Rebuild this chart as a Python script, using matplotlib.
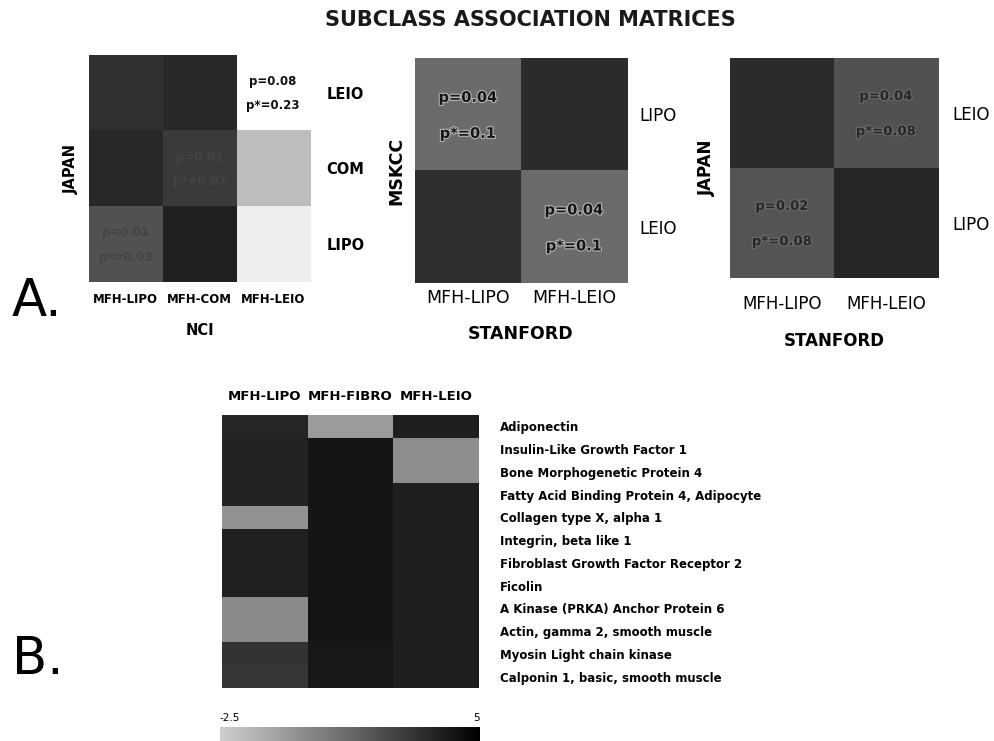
import matplotlib as mpl
mpl.use("Agg")
import matplotlib.pyplot as plt
import matplotlib.patheffects as pe
from matplotlib.colors import LinearSegmentedColormap

plt.rcParams.update({
    "font.family": ["DejaVu Sans"],
    "axes.linewidth": 0,
})

W, H = 994, 741

# ---- panel A: subclass association matrices (shade 0 = black, 1 = white) ----
nci_cols = ["MFH-LIPO", "MFH-COM", "MFH-LEIO"]
japan_rows_3 = ["LEIO", "COM", "LIPO"]
nci_japan = [[0.19, 0.16, 1.00],
             [0.16, 0.23, 0.74],
             [0.32, 0.13, 0.93]]
nci_japan_p = [(0, 2, "p=0.08", "p*=0.23"),
               (1, 1, "p=0.01", "p*=0.02"),
               (2, 0, "p=0.01", "p*=0.03")]

stanford_cols = ["MFH-LIPO", "MFH-LEIO"]
mskcc_rows = ["LIPO", "LEIO"]
stanford_mskcc = [[0.42, 0.17],
                  [0.18, 0.42]]
stanford_mskcc_p = [(0, 0, "p=0.04", "p*=0.1"),
                    (1, 1, "p=0.04", "p*=0.1")]

japan_rows_2 = ["LEIO", "LIPO"]
stanford_japan = [[0.17, 0.32],
                  [0.33, 0.15]]
stanford_japan_p = [(0, 1, "p=0.04", "p*=0.08"),
                    (1, 0, "p=0.02", "p*=0.08")]

# ---- panel B: marker gene expression by subclass ----
genes = ["Adiponectin",
         "Insulin-Like Growth Factor 1",
         "Bone Morphogenetic Protein 4",
         "Fatty Acid Binding Protein 4, Adipocyte",
         "Collagen type X, alpha 1",
         "Integrin, beta like 1",
         "Fibroblast Growth Factor Receptor 2",
         "Ficolin",
         "A Kinase (PRKA) Anchor Protein 6",
         "Actin, gamma 2, smooth muscle",
         "Myosin Light chain kinase",
         "Calponin 1, basic, smooth muscle"]
subclasses = ["MFH-LIPO", "MFH-FIBRO", "MFH-LEIO"]
expr = [[3.6, -0.6, 3.9],
        [3.7, 4.2, -0.1],
        [3.7, 4.2, -0.1],
        [3.7, 4.2, 3.9],
        [-0.3, 4.2, 3.9],
        [3.8, 4.2, 3.9],
        [3.8, 4.2, 3.9],
        [3.8, 4.2, 3.9],
        [0.0, 4.2, 3.9],
        [0.0, 4.2, 3.9],
        [3.1, 4.1, 3.9],
        [3.0, 4.1, 3.9]]
vmin, vmax = -2.5, 5


def box(x0, y0, x1, y1):
    return [x0 / W, 1 - y1 / H, (x1 - x0) / W, (y1 - y0) / H]


def assoc(ax, data, cols, rows, xlab, ylab, notes, tick_fs, tick_w, row_fs,
          row_w, lab_fs, xpad, rpad, xlpad, ylpad, note_fs, note_style):
    ax.imshow(data, cmap="gray", vmin=0, vmax=1, aspect="auto",
              interpolation="nearest")
    ax.set_xticks(range(len(cols)))
    ax.set_xticklabels(cols, fontsize=tick_fs, fontweight=tick_w)
    ax.yaxis.tick_right()
    ax.set_yticks(range(len(rows)))
    ax.set_yticklabels(rows, fontsize=row_fs, fontweight=row_w)
    ax.tick_params(axis="x", length=0, pad=xpad)
    ax.tick_params(axis="y", length=0, pad=rpad)
    ax.set_xlabel(xlab, fontsize=lab_fs, fontweight="bold", labelpad=xlpad)
    ax.yaxis.set_label_position("left")
    ax.set_ylabel(ylab, fontsize=lab_fs, fontweight="bold", labelpad=ylpad)
    for s in ax.spines.values():
        s.set_visible(False)
    for r, c, p, ps in notes:
        color, stroke = note_style(data[r][c])
        kw = dict(ha="center", va="center", fontsize=note_fs,
                  fontweight="bold", color=color)
        if stroke:
            kw["path_effects"] = [pe.withStroke(linewidth=1.6,
                                                foreground=stroke)]
        ax.text(c, r - 0.15, p, **kw)
        ax.text(c, r + 0.17, ps, **kw)


fig = plt.figure(figsize=(W / 100, H / 100), dpi=100)
fig.text(530 / W, 1 - 20 / H, "SUBCLASS ASSOCIATION MATRICES",
         ha="center", va="center", fontsize=15, fontweight="bold",
         color="#1a1a1a")


def style1(v):
    return ("#111111", None) if v > 0.9 else ("#444444", None)


ax1 = fig.add_axes(box(89, 55, 310, 282))
assoc(ax1, nci_japan, nci_cols, japan_rows_3, "NCI", "JAPAN", nci_japan_p,
      8.5, "bold", 10.5, "bold", 10.5, 8, 12, 12, 7, 8.5, style1)

ax2 = fig.add_axes(box(415, 58, 627, 283))
assoc(ax2, stanford_mskcc, stanford_cols, mskcc_rows, "STANFORD", "MSKCC",
      stanford_mskcc_p, 12.5, "normal", 12, "normal", 12.5, 4, 9, 13, 7, 10.5,
      lambda v: ("#151515", "#b5b5b5"))

ax3 = fig.add_axes(box(730, 58, 938, 278))
assoc(ax3, stanford_japan, stanford_cols, japan_rows_2, "STANFORD", "JAPAN",
      stanford_japan_p, 12, "normal", 12, "normal", 12, 12, 10, 14, 10, 9.5,
      lambda v: ("#262626", "#6a6a6a"))

fig.text(12 / W, 1 - 302 / H, "A.", fontsize=37, va="center", ha="left")
fig.text(12 / W, 1 - 660 / H, "B.", fontsize=37, va="center", ha="left")

# expression heat map
cmap = LinearSegmentedColormap.from_list("expr", ["#cfcfcf", "#000000"])
axb = fig.add_axes(box(222, 415, 479, 688))
im = axb.imshow(expr, cmap=cmap, vmin=vmin, vmax=vmax, aspect="auto",
                interpolation="nearest")
axb.xaxis.tick_top()
axb.set_xticks(range(len(subclasses)))
axb.set_xticklabels(subclasses, fontsize=9.5, fontweight="bold")
axb.tick_params(axis="x", length=0, pad=9)
axb.yaxis.tick_right()
axb.set_yticks(range(len(genes)))
axb.set_yticklabels(genes, fontsize=8.5, fontweight="bold")
axb.tick_params(axis="y", length=0, pad=15)
for s in axb.spines.values():
    s.set_visible(False)

cax = fig.add_axes(box(220, 727, 480, 741))
cb = fig.colorbar(im, cax=cax, orientation="horizontal")
cb.outline.set_visible(False)
cax.xaxis.set_ticks_position("top")
cb.set_ticks([vmin, vmax])
cb.set_ticklabels(["-2.5", "5"])
cax.tick_params(length=0, pad=3, labelsize=7.5)
tl = cax.get_xticklabels()
tl[0].set_ha("left")
tl[1].set_ha("right")

fig.savefig("out.png", dpi=100)
